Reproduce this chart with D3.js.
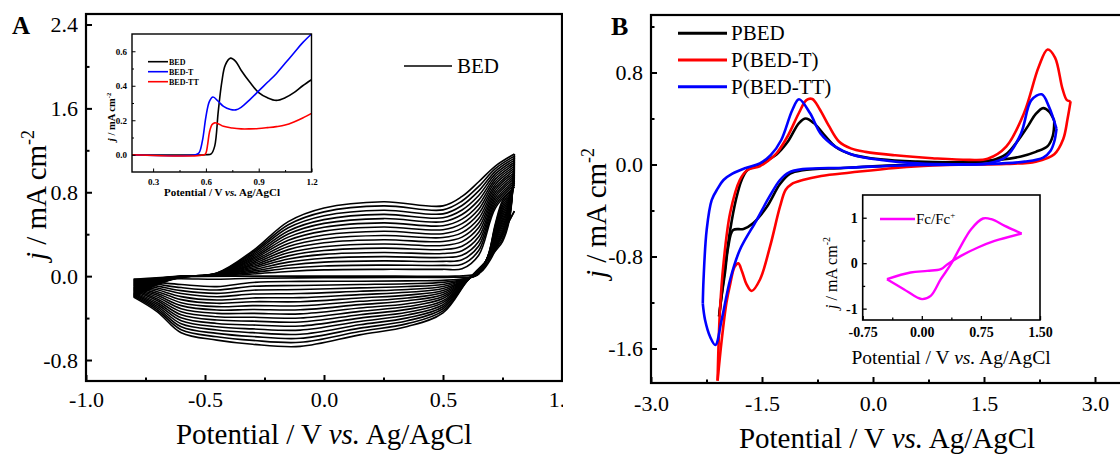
<!DOCTYPE html>
<html><head><meta charset="utf-8">
<script src="https://cdn.jsdelivr.net/npm/d3@7"></script>
<style>body{margin:0;background:#fff}svg{display:block}</style>
</head><body>
<svg id="c" width="1120" height="454"></svg>
<script>
// ---------- Panel A : repeated CV cycles of BED ----------
const potFwdA = [-0.8, -0.7, -0.6, -0.45, -0.3, -0.15, 0.0, 0.25, 0.5, 0.58, 0.65, 0.72, 0.8];
const currFwdA = [
  [-0.04,-0.02,0,0.002,0.02,0.045,0.06,0.065,0.065,0.07,0.2,0.65,0.85],
  [-0.05,-0.024,-0.001,0.004,0.034,0.075,0.097,0.105,0.103,0.113,0.244,0.675,0.870],
  [-0.06,-0.028,-0.001,0.006,0.048,0.104,0.134,0.146,0.141,0.156,0.288,0.70,0.889],
  [-0.07,-0.031,-0.002,0.007,0.061,0.134,0.171,0.186,0.178,0.199,0.331,0.725,0.909],
  [-0.08,-0.035,-0.003,0.009,0.075,0.164,0.208,0.226,0.216,0.243,0.375,0.75,0.929],
  [-0.09,-0.039,-0.003,0.011,0.089,0.193,0.244,0.267,0.254,0.286,0.419,0.775,0.948],
  [-0.10,-0.043,-0.004,0.013,0.103,0.223,0.281,0.307,0.292,0.329,0.463,0.80,0.968],
  [-0.11,-0.046,-0.004,0.014,0.116,0.253,0.318,0.347,0.330,0.372,0.506,0.825,0.988],
  [-0.12,-0.05,-0.005,0.016,0.13,0.283,0.355,0.388,0.368,0.415,0.55,0.85,1.008],
  [-0.13,-0.054,-0.006,0.018,0.144,0.312,0.392,0.428,0.405,0.458,0.594,0.875,1.027],
  [-0.14,-0.058,-0.006,0.02,0.158,0.342,0.429,0.468,0.443,0.501,0.638,0.90,1.047],
  [-0.15,-0.061,-0.007,0.021,0.171,0.372,0.466,0.508,0.481,0.544,0.681,0.925,1.067],
  [-0.16,-0.065,-0.008,0.023,0.185,0.401,0.503,0.549,0.519,0.588,0.725,0.95,1.086],
  [-0.17,-0.069,-0.008,0.025,0.199,0.431,0.539,0.589,0.557,0.631,0.769,0.975,1.106],
  [-0.18,-0.073,-0.009,0.027,0.213,0.461,0.576,0.629,0.594,0.674,0.813,1.00,1.126],
  [-0.19,-0.076,-0.009,0.028,0.226,0.490,0.613,0.670,0.632,0.717,0.856,1.025,1.145],
  [-0.20,-0.08,-0.01,0.03,0.24,0.52,0.65,0.71,0.67,0.76,0.90,1.05,1.165]
];
const potRevA = [0.8, 0.78, 0.75, 0.72, 0.69, 0.65, 0.6, 0.5, 0.35, 0.15, -0.1, -0.3, -0.45, -0.6, -0.7, -0.8];
const currRevA = [
  [0.85,0.80,0.72,0.50,0.20,0.02,-0.02,-0.04,-0.045,-0.048,-0.05,-0.06,-0.10,-0.08,-0.06,-0.04],
  [0.870,0.784,0.696,0.484,0.198,0.023,-0.022,-0.059,-0.072,-0.08,-0.089,-0.097,-0.132,-0.109,-0.078,-0.05],
  [0.889,0.769,0.671,0.468,0.195,0.026,-0.024,-0.079,-0.099,-0.112,-0.128,-0.134,-0.164,-0.138,-0.095,-0.06],
  [0.909,0.753,0.647,0.451,0.193,0.029,-0.026,-0.098,-0.127,-0.144,-0.166,-0.171,-0.196,-0.166,-0.113,-0.07],
  [0.929,0.738,0.623,0.435,0.19,0.033,-0.028,-0.118,-0.154,-0.176,-0.205,-0.208,-0.228,-0.195,-0.13,-0.08],
  [0.948,0.722,0.598,0.419,0.188,0.036,-0.029,-0.137,-0.181,-0.208,-0.244,-0.244,-0.259,-0.224,-0.148,-0.09],
  [0.968,0.706,0.574,0.403,0.185,0.039,-0.031,-0.156,-0.208,-0.24,-0.283,-0.281,-0.291,-0.253,-0.165,-0.10],
  [0.988,0.691,0.549,0.386,0.183,0.042,-0.033,-0.176,-0.235,-0.272,-0.321,-0.318,-0.323,-0.281,-0.183,-0.11],
  [1.008,0.675,0.525,0.37,0.18,0.045,-0.035,-0.195,-0.263,-0.304,-0.36,-0.355,-0.355,-0.31,-0.20,-0.12],
  [1.027,0.659,0.501,0.354,0.178,0.048,-0.037,-0.214,-0.29,-0.336,-0.399,-0.392,-0.387,-0.339,-0.218,-0.13],
  [1.047,0.644,0.476,0.338,0.175,0.051,-0.039,-0.234,-0.317,-0.368,-0.438,-0.429,-0.419,-0.368,-0.235,-0.14],
  [1.067,0.628,0.452,0.321,0.173,0.054,-0.041,-0.253,-0.344,-0.40,-0.476,-0.466,-0.451,-0.396,-0.253,-0.15],
  [1.086,0.613,0.428,0.305,0.17,0.058,-0.043,-0.273,-0.371,-0.432,-0.515,-0.503,-0.483,-0.425,-0.27,-0.16],
  [1.106,0.597,0.403,0.289,0.168,0.061,-0.044,-0.292,-0.398,-0.464,-0.554,-0.539,-0.514,-0.454,-0.288,-0.17],
  [1.126,0.581,0.379,0.273,0.165,0.064,-0.046,-0.311,-0.426,-0.496,-0.593,-0.576,-0.546,-0.483,-0.305,-0.18],
  [1.145,0.566,0.354,0.256,0.163,0.067,-0.048,-0.331,-0.453,-0.528,-0.631,-0.613,-0.578,-0.511,-0.323,-0.19],
  [1.165,0.55,0.33,0.24,0.16,0.07,-0.05,-0.35,-0.48,-0.56,-0.67,-0.65,-0.61,-0.54,-0.34,-0.20]
];
// first (nucleation) cycle
const firstFwdPot = [-0.8, -0.6, -0.3, 0.0, 0.3, 0.55, 0.62, 0.66, 0.70, 0.75, 0.8];
const firstFwdCur = [-0.03, -0.005, 0.0, 0.0, 0.0, 0.0, 0.01, 0.04, 0.16, 0.40, 0.62];
const firstRevPot = [0.8, 0.76, 0.72, 0.69, 0.66, 0.63, 0.55, 0.3, 0.0, -0.3, -0.45, -0.6, -0.8];
const firstRevCur = [0.62, 0.45, 0.28, 0.14, 0.05, 0.0, -0.01, -0.012, -0.015, -0.02, -0.03, -0.025, -0.03];

// Panel A inset: LSV
const lsvBED  = [[0.18,0],[0.6,0],[0.63,0.005],[0.65,0.05],[0.67,0.25],[0.69,0.42],[0.71,0.52],[0.74,0.56],[0.77,0.54],[0.8,0.49],[0.85,0.42],[0.9,0.36],[0.95,0.33],[1.0,0.315],[1.05,0.33],[1.1,0.36],[1.15,0.4],[1.2,0.435]];
const lsvBEDT = [[0.18,0],[0.54,0],[0.56,0.01],[0.58,0.08],[0.6,0.22],[0.62,0.31],[0.64,0.335],[0.67,0.31],[0.7,0.28],[0.74,0.262],[0.77,0.26],[0.8,0.275],[0.85,0.32],[0.9,0.37],[0.95,0.42],[1.0,0.47],[1.05,0.53],[1.1,0.59],[1.15,0.65],[1.2,0.7]];
const lsvBEDTT= [[0.18,0],[0.59,0],[0.6,0.01],[0.61,0.06],[0.62,0.13],[0.635,0.175],[0.65,0.185],[0.67,0.18],[0.7,0.165],[0.75,0.155],[0.8,0.15],[0.85,0.15],[0.9,0.152],[0.95,0.157],[1.0,0.163],[1.05,0.172],[1.1,0.19],[1.15,0.213],[1.2,0.24]];

// ---------- Panel B : polymer CVs ----------
const pbedUp = [[-2.08,-1.32],[-2.02,-1.0],[-1.93,-0.57],[-1.85,-0.3],[-1.775,-0.135],[-1.70,-0.05],[-1.53,0.0],[-1.42,0.04],[-1.3,0.09],[-1.15,0.2],[-1.0,0.36],[-0.91,0.40],[-0.8,0.36],[-0.65,0.25],[-0.5,0.15],[-0.3,0.09],[0.1,0.045],[0.6,0.025],[1.1,0.02],[1.6,0.035],[1.8,0.09],[1.95,0.2],[2.1,0.34],[2.2,0.44],[2.3,0.49],[2.38,0.46],[2.45,0.38]];
const pbedDn = [[2.45,0.38],[2.43,0.25],[2.36,0.16],[2.2,0.11],[2.0,0.07],[1.7,0.04],[1.3,0.02],[0.8,0.005],[0.2,-0.01],[-0.4,-0.03],[-0.95,-0.05],[-1.12,-0.08],[-1.257,-0.17],[-1.436,-0.37],[-1.62,-0.51],[-1.75,-0.56],[-1.89,-0.57],[-1.955,-0.71],[-2.0,-0.94],[-2.045,-1.14],[-2.08,-1.32]];
const pbedtUp = [[-2.10,-1.88],[-2.07,-1.29],[-2.02,-0.86],[-1.93,-0.42],[-1.80,-0.135],[-1.70,-0.05],[-1.53,-0.015],[-1.42,0.03],[-1.3,0.1],[-1.15,0.25],[-1.0,0.45],[-0.90,0.56],[-0.82,0.57],[-0.72,0.48],[-0.6,0.34],[-0.46,0.2],[-0.3,0.14],[-0.1,0.11],[0.3,0.08],[0.8,0.055],[1.3,0.04],[1.55,0.05],[1.8,0.155],[2.04,0.445],[2.24,0.85],[2.36,1.0],[2.46,0.93],[2.56,0.66],[2.62,0.56],[2.67,0.55]];
const pbedtDn = [[2.67,0.55],[2.63,0.4],[2.57,0.22],[2.45,0.09],[2.2,0.025],[1.8,0.005],[1.0,-0.005],[0.3,-0.03],[-0.3,-0.07],[-0.7,-0.1],[-0.95,-0.135],[-1.1,-0.17],[-1.18,-0.22],[-1.257,-0.367],[-1.39,-0.71],[-1.527,-1.0],[-1.64,-1.10],[-1.71,-1.04],[-1.77,-0.93],[-1.82,-0.86],[-1.87,-0.89],[-1.93,-1.04],[-1.98,-1.2],[-2.045,-1.53],[-2.10,-1.88]];
const pbedttUp = [[-2.30,-1.21],[-2.29,-1.0],[-2.248,-0.57],[-2.18,-0.31],[-2.10,-0.21],[-2.02,-0.135],[-1.90,-0.08],[-1.72,-0.03],[-1.53,0.01],[-1.38,0.083],[-1.24,0.213],[-1.09,0.474],[-1.0,0.567],[-0.85,0.445],[-0.71,0.271],[-0.51,0.155],[-0.27,0.083],[0.11,0.039],[0.6,0.01],[1.08,0.002],[1.56,0.01],[1.80,0.068],[2.0,0.27],[2.14,0.56],[2.28,0.61],[2.38,0.50],[2.48,0.31]];
const pbedttDn = [[2.48,0.31],[2.45,0.2],[2.4,0.12],[2.3,0.06],[2.05,0.025],[1.56,0.004],[0.6,-0.004],[-0.37,-0.028],[-0.95,-0.04],[-1.14,-0.07],[-1.257,-0.135],[-1.40,-0.28],[-1.572,-0.483],[-1.80,-0.743],[-1.93,-1.0],[-2.045,-1.35],[-2.13,-1.57],[-2.20,-1.50],[-2.27,-1.35],[-2.30,-1.21]];
// Panel B inset: ferrocene
const fcFwd = [[-0.442,-0.352],[-0.229,-0.572],[-0.058,-0.755],[0.006,-0.79],[0.113,-0.72],[0.241,-0.352],[0.369,-0.022],[0.497,0.381],[0.626,0.748],[0.776,0.983],[0.882,0.968],[1.053,0.821],[1.267,0.653]];
const fcRev = [[1.267,0.653],[0.924,0.49],[0.712,0.345],[0.497,0.161],[0.327,-0.022],[0.241,-0.132],[0.07,-0.169],[-0.144,-0.205],[-0.442,-0.352]];

// tick values
const ticksAx = [-1.0,-0.5,0.0,0.5,1.0], minorAx = [-0.75,-0.25,0.25,0.75];
const ticksAy = [-0.8,0.0,0.8,1.6,2.4], minorAy = [-0.4,0.4,1.2,2.0];
const ticksIAx = [0.3,0.6,0.9,1.2], minorIAx = [0.45,0.75,1.05];
const ticksIAy = [0.0,0.2,0.4,0.6], minorIAy = [0.1,0.3,0.5];
const ticksBx = [-3.0,-1.5,0.0,1.5,3.0], minorBx = [-2.25,-0.75,0.75,2.25];
const ticksBy = [-1.6,-0.8,0.0,0.8], minorBy = [-1.2,-0.4,0.4,1.2];
const ticksIBx = [-0.75,0.0,0.75,1.5], minorIBx = [-0.375,0.375,1.125];
const ticksIBy = [-1,0,1], minorIBy = [-0.5,0.5];

// ---------- drawing ----------
const serif = "'Liberation Serif','Times New Roman',Times,serif";
const svg = d3.select("#c");
svg.append("defs").append("clipPath").attr("id","clipA").append("rect").attr("x",0).attr("y",0).attr("width",563).attr("height",454);

function axes(g, x, y, o) {
  const yb = y.range()[0], xl = x.range()[0];
  const mk = (axis, tr) => g.append("g").attr("transform", tr).call(axis).call(s => s.select(".domain").remove());
  mk(d3.axisBottom(x).tickValues(o.xMinor).tickSize(-o.minor).tickFormat(""), `translate(0,${yb})`);
  mk(d3.axisLeft(y).tickValues(o.yMinor).tickSize(-o.minor).tickFormat(""), `translate(${xl},0)`);
  const bx = mk(d3.axisBottom(x).tickValues(o.xTicks).tickSize(-o.major).tickPadding(o.padX).tickFormat(o.fx), `translate(0,${yb})`);
  const ly = mk(d3.axisLeft(y).tickValues(o.yTicks).tickSize(-o.major).tickPadding(o.padY).tickFormat(o.fy), `translate(${xl},0)`);
  [bx, ly].forEach(s => s.attr("font-family", serif).attr("font-size", o.fs).attr("font-weight", o.bold ? "bold" : "normal"));
  g.selectAll(".tick line").attr("stroke-width", o.tw);
  g.append("rect").attr("x", xl).attr("y", y.range()[1])
    .attr("width", x.range()[1] - xl).attr("height", yb - y.range()[1])
    .attr("fill", "none").attr("stroke", "#000").attr("stroke-width", o.frame);
}
function yTitle(g, x, y, fs, bold) {
  const t = g.append("text").attr("transform", `translate(${x},${y}) rotate(-90)`)
    .attr("text-anchor", "middle").attr("font-family", serif).attr("font-size", fs).attr("font-weight", bold ? "bold" : "normal");
  t.append("tspan").attr("font-style", "italic").text("j");
  t.append("tspan").text(" / mA cm");
  t.append("tspan").attr("font-size", fs * 0.62).attr("dy", -fs * 0.42).text("-2");
}
function xTitle(g, x, y, fs, bold) {
  const t = g.append("text").attr("x", x).attr("y", y).attr("text-anchor", "middle")
    .attr("font-family", serif).attr("font-size", fs).attr("font-weight", bold ? "bold" : "normal");
  t.append("tspan").text("Potential / V ");
  t.append("tspan").attr("font-style", "italic").text("vs.");
  t.append("tspan").text(" Ag/AgCl");
}
const mkLine = (x, y) => d3.line().x(d => x(d[0])).y(d => y(d[1])).curve(d3.curveCatmullRom.alpha(0.5));
const f1 = d => d.toFixed(1), f2 = d => d.toFixed(2), f0 = d => d.toFixed(0);

// ===== Panel A =====
const gA = svg.append("g").attr("clip-path", "url(#clipA)");
const xA = d3.scaleLinear([-1, 1], [86, 562]);
const yA = d3.scaleLinear([-1, 2.5], [381, 14]);
const lineA = mkLine(xA, yA);
const gAc = gA.append("g").attr("fill", "none").attr("stroke", "#000").attr("stroke-width", 1.6);
currFwdA.forEach(row => gAc.append("path").attr("d", lineA(d3.zip(potFwdA, row))));
currRevA.forEach(row => gAc.append("path").attr("d", lineA(d3.zip(potRevA, row))));
gAc.append("path").attr("d", lineA(d3.zip(firstFwdPot, firstFwdCur)));
gAc.append("path").attr("d", lineA(d3.zip(firstRevPot, firstRevCur)));
axes(gA, xA, yA, {xTicks: ticksAx, xMinor: minorAx, yTicks: ticksAy, yMinor: minorAy, major: 6, minor: 3.5,
  padX: 10, padY: 8, fx: f1, fy: f1, fs: 22, tw: 2, frame: 2.2});
yTitle(gA, 46, 195, 29, false);
xTitle(gA, 324, 444, 29, false);
gA.append("text").attr("x", 12).attr("y", 34).attr("font-family", serif).attr("font-weight", "bold").attr("font-size", 25).text("A");
gA.append("line").attr("x1", 404).attr("x2", 452).attr("y1", 66).attr("y2", 66).attr("stroke", "#000").attr("stroke-width", 1.5);
gA.append("text").attr("x", 457).attr("y", 73).attr("font-family", serif).attr("font-size", 21).text("BED");

// inset A
const xIA = d3.scaleLinear([0.18, 1.2], [132, 311.5]);
const yIA = d3.scaleLinear([-0.1, 0.7], [172, 34]);
gA.append("rect").attr("x", 132).attr("y", 34).attr("width", 179.5).attr("height", 138).attr("fill", "#fff");
const lineIA = mkLine(xIA, yIA);
const gIA = gA.append("g");
const insetSeries = [[lsvBED, "#000000", "BED"], [lsvBEDT, "#0000ff", "BED-T"], [lsvBEDTT, "#ff0000", "BED-TT"]];
insetSeries.forEach(([d, c]) => gIA.append("path").attr("d", lineIA(d)).attr("fill", "none").attr("stroke", c).attr("stroke-width", 1.6));
axes(gIA, xIA, yIA, {xTicks: ticksIAx, xMinor: minorIAx, yTicks: ticksIAy, yMinor: minorIAy, major: 3.5, minor: 2,
  padX: 6.5, padY: 5, fx: f1, fy: f1, fs: 9, bold: true, tw: 1, frame: 1.4});
insetSeries.forEach(([d, c, n], i) => {
  const yy = 61.7 + i * 10;
  gIA.append("line").attr("x1", 148).attr("x2", 168).attr("y1", yy).attr("y2", yy).attr("stroke", c).attr("stroke-width", 1.6);
  gIA.append("text").attr("x", 169).attr("y", yy + 3).attr("font-family", serif).attr("font-weight", "bold").attr("font-size", 8).text(n);
});
yTitle(gIA, 115, 117, 10.5, true);
xTitle(gIA, 222, 196, 11, true);

// ===== Panel B =====
const gB = svg.append("g");
const xB = d3.scaleLinear([-3, 3.4], [651, 1124.6]);
const yB = d3.scaleLinear([-1.9, 1.3], [383, 15]);
const lineB = mkLine(xB, yB);
const seriesB = [[pbedUp, pbedDn, "#000000", "PBED"], [pbedtUp, pbedtDn, "#ff0000", "P(BED-T)"], [pbedttUp, pbedttDn, "#0000ff", "P(BED-TT)"]];
seriesB.forEach(([u, dn, c]) => {
  gB.append("path").attr("d", lineB(u)).attr("fill", "none").attr("stroke", c).attr("stroke-width", 2.6);
  gB.append("path").attr("d", lineB(dn)).attr("fill", "none").attr("stroke", c).attr("stroke-width", 2.6);
});
axes(gB, xB, yB, {xTicks: ticksBx, xMinor: minorBx, yTicks: ticksBy, yMinor: minorBy, major: 6, minor: 3.5,
  padX: 12, padY: 8, fx: f1, fy: f1, fs: 22, tw: 2, frame: 2.2});
yTitle(gB, 606, 213, 29, false);
xTitle(gB, 887, 448, 29, false);
gB.append("text").attr("x", 611).attr("y", 35).attr("font-family", serif).attr("font-weight", "bold").attr("font-size", 26).text("B");
seriesB.forEach(([u, dn, c, n], i) => {
  const yy = 33.3 + i * 26.7;
  gB.append("line").attr("x1", 678).attr("x2", 727).attr("y1", yy).attr("y2", yy).attr("stroke", c).attr("stroke-width", 3);
  gB.append("text").attr("x", 731).attr("y", yy + 7).attr("font-family", serif).attr("font-size", 21).text(n);
});

// inset B
const xIB = d3.scaleLinear([-0.75, 1.5], [862.7, 1040]);
const yIB = d3.scaleLinear([-1.25, 1.5], [320, 195]);
gB.append("rect").attr("x", 862.7).attr("y", 195).attr("width", 177.3).attr("height", 125).attr("fill", "#fff");
const lineIB = mkLine(xIB, yIB);
const gIB = gB.append("g");
gIB.append("path").attr("d", lineIB(fcFwd)).attr("fill", "none").attr("stroke", "#ff00ff").attr("stroke-width", 2.4);
gIB.append("path").attr("d", lineIB(fcRev)).attr("fill", "none").attr("stroke", "#ff00ff").attr("stroke-width", 2.4);
axes(gIB, xIB, yIB, {xTicks: ticksIBx, xMinor: minorIBx, yTicks: ticksIBy, yMinor: minorIBy, major: 4, minor: 2.5,
  padX: 7, padY: 5, fx: f2, fy: f0, fs: 14, bold: true, tw: 1.3, frame: 1.6});
gIB.append("line").attr("x1", 880).attr("x2", 915).attr("y1", 219).attr("y2", 219).attr("stroke", "#ff00ff").attr("stroke-width", 2.4);
const fcT = gIB.append("text").attr("x", 916).attr("y", 224).attr("font-family", serif).attr("font-size", 15);
fcT.append("tspan").text("Fc/Fc");
fcT.append("tspan").attr("font-size", 9).attr("dy", -6).text("+");
yTitle(gIB, 837, 273, 16, false);
xTitle(gIB, 951, 364, 19.5, false);
</script>
</body></html>
